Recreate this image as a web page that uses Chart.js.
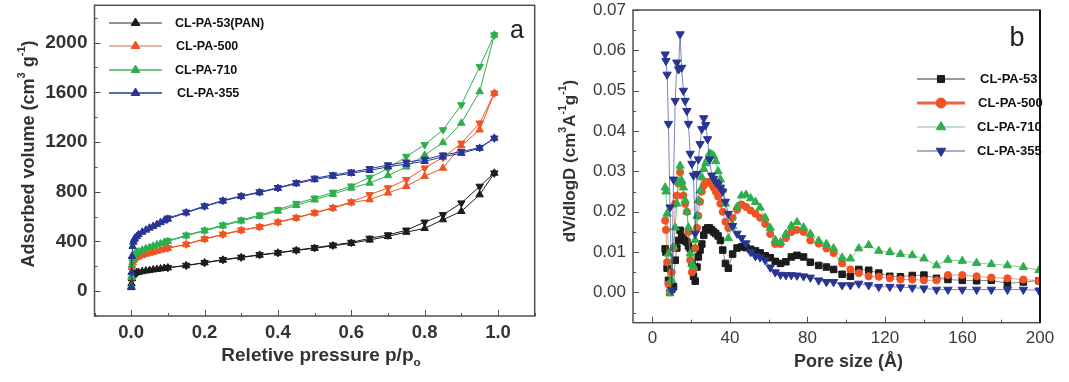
<!DOCTYPE html>
<html>
<head>
<meta charset="utf-8">
<script src="https://cdn.jsdelivr.net/npm/chart.js@4.4.1/dist/chart.umd.min.js"></script>
<style>
  html, body { margin: 0; padding: 0; background: #fff; }
  #wrap { position: relative; width: 1069px; height: 382px; overflow: hidden; }
  #panel_a { position: absolute; left: 0; top: 0; }
  #panel_b { position: absolute; left: 540px; top: 0; }
</style>
</head>
<body>
<div id="wrap">
  <canvas id="panel_a" width="540" height="382"></canvas>
  <canvas id="panel_b" width="529" height="382"></canvas>
</div>
<script>
// ---- panel a : N2 isotherms ----
var samples_a = ['CL-PA-53(PAN)', 'CL-PA-500', 'CL-PA-710', 'CL-PA-355'];
var p_ads = [0.0005, 0.001, 0.002, 0.004, 0.006, 0.008, 0.01, 0.015, 0.02, 0.03, 0.04, 0.05, 0.06, 0.07, 0.08, 0.09, 0.1,
             0.15, 0.2, 0.25, 0.3, 0.35, 0.4, 0.45, 0.5, 0.55, 0.6, 0.65, 0.7, 0.75, 0.8, 0.85, 0.9, 0.95, 0.99];
var p_des = [0.99, 0.95, 0.9, 0.85, 0.8, 0.75, 0.7, 0.65, 0.6, 0.55, 0.5, 0.45, 0.4, 0.35, 0.3, 0.25, 0.2, 0.15, 0.1];

var ads_53  = [30, 60, 100, 125, 135, 140, 145, 150, 152, 158, 163, 167, 172, 176, 180, 184, 188,
               205, 228, 250, 270, 290, 307, 327, 345, 365, 385, 412, 440, 475, 505, 575, 642, 776, 950];
var des_53  = [950, 843, 709, 615, 555, 490, 452, 425, 392, 370, 350, 330, 310, 293, 273, 254, 230, 207, 190];
var ads_500 = [35, 110, 190, 230, 248, 258, 265, 272, 278, 288, 298, 306, 314, 322, 330, 338, 345,
               375, 418, 455, 488, 515, 552, 588, 628, 668, 712, 736, 790, 843, 924, 990, 1170, 1298, 1593];
var des_500 = [1593, 1352, 1190, 1075, 990, 897, 830, 776, 718, 672, 632, 592, 556, 518, 492, 458, 421, 378, 348];
var ads_710 = [40, 120, 210, 260, 280, 292, 300, 310, 318, 330, 342, 352, 362, 372, 382, 392, 400,
               445, 485, 525, 565, 603, 645, 690, 735, 780, 830, 870, 930, 1000, 1095, 1195, 1352, 1606, 2061];
var des_710 = [2061, 1807, 1499, 1298, 1178, 1084, 985, 915, 845, 795, 748, 705, 655, 612, 572, 532, 490, 450, 405];
var ads_355 = [30, 150, 280, 360, 395, 415, 425, 440, 455, 475, 492, 508, 522, 537, 552, 566, 580,
               630, 680, 725, 762, 793, 828, 865, 898, 925, 948, 972, 1000, 1022, 1045, 1080, 1110, 1150, 1231];
var des_355 = [1231, 1155, 1122, 1095, 1060, 1038, 1015, 985, 958, 935, 908, 872, 832, 798, 766, 730, 685, 635, 588];

var x_ticks_a = [0, 0.2, 0.4, 0.6, 0.8, 1.0];
var y_ticks_a = [0, 400, 800, 1200, 1600, 2000];

// ---- panel b : pore size distribution ----
var samples_b = ['CL-PA-53', 'CL-PA-500', 'CL-PA-710', 'CL-PA-355'];
var pore_size = [6.6, 7.0, 7.6, 8.3, 9.1, 10.0, 10.9, 11.8, 12.6, 13.5, 14.3, 15.1, 16.0, 16.9, 17.8, 18.6, 19.5, 20.4,
                 21.2, 22.1, 23.0, 23.7, 24.6, 25.5, 26.5, 27.5, 28.5, 29.5, 30.6, 31.6, 32.7, 33.9, 35.1, 36.3,
                 37.7, 39.2, 41.4, 43.7, 46.0, 48.3, 50.7, 53.2, 55.6, 58.2, 60.8, 63.4, 66.1, 68.9, 71.7, 74.6,
                 78.0, 81.5, 85.8, 89.8, 93.5, 97.9, 102.2, 106.5, 111.6, 116.8, 122.5, 128.0, 134.1, 140.1,
                 146.6, 152.5, 159.9, 167.3, 174.9, 183.2, 191.4, 199.5];
var psd_53  = [0.0108, 0.0100, 0.0060, 0.0030, 0.0000, 0.0008, 0.0014, 0.0080, 0.0110, 0.0129, 0.0154, 0.0137,
               0.0132, 0.0128, 0.0125, 0.0115, 0.0109, 0.0072, 0.0040, 0.0028, 0.0063, 0.0088, 0.0105, 0.0120,
               0.0142, 0.0155, 0.0160, 0.0160, 0.0155, 0.0150, 0.0146, 0.0140, 0.0129, 0.0105, 0.0072, 0.0060,
               0.0095, 0.0110, 0.0113, 0.0111, 0.0107, 0.0103, 0.0098, 0.0091, 0.0086, 0.0077, 0.0072, 0.0076,
               0.0088, 0.0092, 0.0088, 0.0075, 0.0067, 0.0063, 0.0057, 0.0045, 0.0040, 0.0057, 0.0055, 0.0048,
               0.0040, 0.0039, 0.0042, 0.0043, 0.0035, 0.0032, 0.0030, 0.0029, 0.0030, 0.0022, 0.0026, 0.0029];
var psd_500 = [0.0178, 0.0155, 0.0075, 0.0020, 0.0000, 0.0050, 0.0110, 0.0220, 0.0240, 0.0270, 0.0298, 0.0270,
               0.0240, 0.0220, 0.0200, 0.0150, 0.0080, 0.0050, 0.0060, 0.0110, 0.0160, 0.0190, 0.0225, 0.0250,
               0.0265, 0.0272, 0.0274, 0.0273, 0.0268, 0.0260, 0.0250, 0.0238, 0.0220, 0.0200, 0.0175, 0.0160,
               0.0185, 0.0205, 0.0218, 0.0212, 0.0203, 0.0195, 0.0185, 0.0170, 0.0145, 0.0120, 0.0120, 0.0135,
               0.0150, 0.0155, 0.0150, 0.0129, 0.0121, 0.0109, 0.0098, 0.0072, 0.0057, 0.0048, 0.0040, 0.0039,
               0.0035, 0.0032, 0.0032, 0.0030, 0.0030, 0.0043, 0.0043, 0.0040, 0.0037, 0.0035, 0.0032, 0.0029];
var psd_710 = [0.0260, 0.0250, 0.0195, 0.0096, 0.0000, 0.0030, 0.0112, 0.0161, 0.0220, 0.0273, 0.0314, 0.0277,
               0.0260, 0.0228, 0.0200, 0.0161, 0.0096, 0.0070, 0.0063, 0.0130, 0.0190, 0.0228, 0.0252, 0.0285,
               0.0306, 0.0320, 0.0330, 0.0344, 0.0342, 0.0338, 0.0325, 0.0300, 0.0280, 0.0255, 0.0220, 0.0134,
               0.0165, 0.0212, 0.0240, 0.0242, 0.0233, 0.0224, 0.0210, 0.0185, 0.0160, 0.0130, 0.0124, 0.0145,
               0.0165, 0.0174, 0.0161, 0.0145, 0.0128, 0.0120, 0.0109, 0.0086, 0.0084, 0.0109, 0.0117, 0.0103,
               0.0100, 0.0095, 0.0092, 0.0084, 0.0067, 0.0081, 0.0078, 0.0073, 0.0070, 0.0067, 0.0063, 0.0055];
var psd_355 = [0.0590, 0.0574, 0.0540, 0.0418, 0.0211, 0.0006, 0.0280, 0.0475, 0.0570, 0.0553, 0.0640, 0.0557,
               0.0500, 0.0475, 0.0450, 0.0418, 0.0344, 0.0319, 0.0290, 0.0146, 0.0294, 0.0330, 0.0368, 0.0405,
               0.0432, 0.0415, 0.0380, 0.0330, 0.0290, 0.0282, 0.0273, 0.0268, 0.0260, 0.0250, 0.0225, 0.0195,
               0.0165, 0.0146, 0.0135, 0.0122, 0.0100, 0.0090, 0.0087, 0.0080, 0.0062, 0.0050, 0.0044, 0.0043,
               0.0043, 0.0042, 0.0040, 0.0037, 0.0030, 0.0026, 0.0026, 0.0018, 0.0018, 0.0022, 0.0018, 0.0014,
               0.0014, 0.0013, 0.0012, 0.0010, 0.0007, 0.0007, 0.0007, 0.0007, 0.0007, 0.0007, 0.0007, 0.0005];

var x_ticks_b = [0, 40, 80, 120, 160, 200];
var y_ticks_b = [0, 0.01, 0.02, 0.03, 0.04, 0.05, 0.06, 0.07];

var c_black = '#1c1c1c', c_red = '#f05323', c_green = '#2fae4e', c_blue = '#283593';
var FONT = '"Liberation Sans", Arial, sans-serif';
Chart.defaults.font.family = FONT;

function pts(xs, ys) {
  return xs.map(function(x, i) { return {x: x, y: ys[i]}; });
}

function branch(label, xs, ys, color, rot) {
  return {
    label: label, data: pts(xs, ys), showLine: true,
    borderColor: color, borderWidth: 1,
    backgroundColor: color, pointBackgroundColor: color, pointBorderColor: color,
    pointStyle: 'triangle', pointRotation: rot, pointRadius: 4.3, pointBorderWidth: 1
  };
}

function psd(label, ys, color, line, style, r, rot) {
  return {
    label: label, data: pts(pore_size, ys), showLine: true,
    borderColor: line, borderWidth: 1,
    backgroundColor: color, pointBackgroundColor: color, pointBorderColor: color,
    pointStyle: style, pointRotation: rot || 0, pointRadius: r, pointBorderWidth: 1
  };
}

// text with super/subscript parts
function draw_rich(ctx, parts, cx, cy, size, weight, color, rot) {
  ctx.save();
  ctx.translate(cx, cy);
  ctx.rotate(rot || 0);
  ctx.fillStyle = color;
  ctx.textBaseline = 'middle';
  ctx.textAlign = 'left';
  var total = 0;
  parts.forEach(function(p) {
    var s = p.s ? size * 0.62 : size;
    ctx.font = weight + ' ' + s + 'px ' + FONT;
    p.w = ctx.measureText(p.t).width;
    total += p.w;
  });
  var x = -total / 2;
  parts.forEach(function(p) {
    var s = p.s ? size * 0.62 : size;
    ctx.font = weight + ' ' + s + 'px ' + FONT;
    var dy = p.s === 1 ? -size * 0.38 : (p.s === -1 ? size * 0.35 : 0);
    ctx.fillText(p.t, x, dy);
    x += p.w;
  });
  ctx.restore();
}

var decor = {
  id: 'decor',
  afterDatasetsDraw: function(chart, args, opt) {
    var ctx = chart.ctx, a = chart.chartArea;
    var sx = chart.scales.x, sy = chart.scales.y;
    ctx.save();

    // legend
    var lg = opt.legend;
    lg.rows.forEach(function(row) {
      ctx.strokeStyle = row.line;
      ctx.lineWidth = row.lw;
      ctx.beginPath();
      ctx.moveTo(lg.x0, row.y);
      ctx.lineTo(lg.x1, row.y);
      ctx.stroke();
      ctx.fillStyle = row.color;
      ctx.strokeStyle = row.color;
      ctx.lineWidth = 1;
      Chart.helpers.drawPoint(ctx, {pointStyle: row.style, radius: row.r, rotation: row.rot || 0, borderWidth: 1},
        (lg.x0 + lg.x1) / 2, row.y);
      ctx.fillStyle = '#111';
      ctx.font = lg.font;
      ctx.textAlign = 'left';
      ctx.textBaseline = 'middle';
      ctx.fillText(row.text, row.tx, row.y + 0.5);
    });

    // inward ticks
    ctx.strokeStyle = opt.frame;
    ctx.lineWidth = 1;
    ctx.beginPath();
    var k, v, px, len;
    for (k = Math.ceil(sx.min / opt.xMinor - 1e-6); k * opt.xMinor <= sx.max + 1e-9; k++) {
      v = k * opt.xMinor;
      px = Math.round(sx.getPixelForValue(v)) + 0.5;
      len = (k % 2 === 0) ? 6 : 3;
      ctx.moveTo(px, a.bottom);
      ctx.lineTo(px, a.bottom - len);
    }
    for (k = Math.ceil(sy.min / opt.yMinor - 1e-6); k * opt.yMinor <= sy.max + 1e-9; k++) {
      v = k * opt.yMinor;
      px = Math.round(sy.getPixelForValue(v)) + 0.5;
      len = (k % 2 === 0) ? 6 : 3;
      ctx.moveTo(a.left, px);
      ctx.lineTo(a.left + len, px);
    }
    ctx.stroke();

    // frame
    ctx.lineWidth = 1.5;
    ctx.strokeStyle = opt.frame;
    ctx.strokeRect(a.left, a.top, a.right - a.left, a.bottom - a.top);
    if (opt.rightEdge) {
      ctx.lineWidth = 2;
      ctx.strokeStyle = opt.rightEdge;
      ctx.beginPath();
      ctx.moveTo(a.right, a.top);
      ctx.lineTo(a.right, a.bottom);
      ctx.stroke();
    }

    // panel letter
    ctx.fillStyle = '#222';
    ctx.font = opt.letter.size + 'px ' + FONT;
    ctx.textAlign = 'center';
    ctx.textBaseline = 'middle';
    ctx.fillText(opt.letter.text, opt.letter.x, opt.letter.y);

    // axis titles
    var t = opt.xTitle;
    draw_rich(ctx, t.parts, t.x, t.y, t.size, 'bold', '#333', 0);
    t = opt.yTitle;
    draw_rich(ctx, t.parts, t.x, t.y, t.size, 'bold', '#333', -Math.PI / 2);
    ctx.restore();
  }
};

function fixed_scale(size, horizontal) {
  return function(s) {
    if (horizontal) s.height = size; else s.width = size;
    s.paddingTop = 0; s.paddingBottom = 0; s.paddingLeft = 0; s.paddingRight = 0;
  };
}

// ---- chart a ----
new Chart(document.getElementById('panel_a'), {
  type: 'scatter',
  data: {
    datasets: [
      branch(samples_a[3], p_ads, ads_355, c_blue, 0),
      branch(samples_a[3], p_des, des_355, c_blue, 180),
      branch(samples_a[2], p_ads, ads_710, c_green, 0),
      branch(samples_a[2], p_des, des_710, c_green, 180),
      branch(samples_a[1], p_ads, ads_500, c_red, 0),
      branch(samples_a[1], p_des, des_500, c_red, 180),
      branch(samples_a[0], p_ads, ads_53, c_black, 0),
      branch(samples_a[0], p_des, des_53, c_black, 180)
    ]
  },
  options: {
    responsive: false, animation: false, events: [],
    layout: {padding: {left: 0, right: 4, top: 5, bottom: 0}},
    plugins: {
      legend: {display: false}, tooltip: {enabled: false},
      decor: {
        frame: '#505050', xMinor: 0.1, yMinor: 200,
        letter: {text: 'a', x: 517, y: 31, size: 25},
        xTitle: {parts: [{t: 'Reletive pressure p/p'}, {t: 'o', s: -1}], x: 321, y: 356, size: 19},
        yTitle: {parts: [{t: 'Adsorbed volume (cm'}, {t: '3', s: 1}, {t: ' g'}, {t: '-1', s: 1}, {t: ')'}], x: 29, y: 154, size: 18},
        legend: {
          x0: 109, x1: 162, font: 'bold 12.5px ' + FONT,
          rows: [
            {y: 23, tx: 175, text: samples_a[0], line: '#707070', lw: 1.5, color: c_black, style: 'triangle', r: 5},
            {y: 46, tx: 176, text: samples_a[1], line: '#e6b6a6', lw: 2, color: c_red, style: 'triangle', r: 5},
            {y: 70, tx: 175, text: samples_a[2], line: '#43b35c', lw: 1.5, color: c_green, style: 'triangle', r: 5},
            {y: 93, tx: 177, text: samples_a[3], line: '#2c3a8c', lw: 1.5, color: c_blue, style: 'triangle', r: 5}
          ]
        }
      }
    },
    scales: {
      x: {
        type: 'linear', min: -0.1, max: 1.1,
        afterBuildTicks: function(s) { s.ticks = x_ticks_a.map(function(v) { return {value: v}; }); },
        afterFit: fixed_scale(66, true),
        grid: {display: false, drawTicks: false}, border: {display: false},
        ticks: {padding: 6, color: '#333', maxRotation: 0, autoSkip: false,
                font: {size: 18.5, weight: 'bold'}, callback: function(v) { return v.toFixed(1); }}
      },
      y: {
        type: 'linear', min: -200, max: 2300,
        afterBuildTicks: function(s) { s.ticks = y_ticks_a.map(function(v) { return {value: v}; }); },
        afterFit: fixed_scale(94.5, false),
        grid: {display: false, drawTicks: false}, border: {display: false},
        ticks: {padding: 7, color: '#333', font: {size: 19, weight: 'bold'},
                callback: function(v) { return String(v); }}
      }
    }
  },
  plugins: [decor]
});

// ---- chart b ----
new Chart(document.getElementById('panel_b'), {
  type: 'scatter',
  data: {
    datasets: [
      psd(samples_b[3], psd_355, c_blue, 'rgba(40,53,147,0.6)', 'triangle', 4.8, 180),
      psd(samples_b[2], psd_710, c_green, 'rgba(47,174,78,0.6)', 'triangle', 4.8, 0),
      psd(samples_b[1], psd_500, c_red, 'rgba(240,83,35,0.6)', 'circle', 3.6, 0),
      psd(samples_b[0], psd_53, c_black, 'rgba(40,40,40,0.55)', 'rect', 4.6, 0)
    ]
  },
  options: {
    responsive: false, animation: false, events: [],
    layout: {padding: {left: 0, right: 29, top: 10, bottom: 0}},
    plugins: {
      legend: {display: false}, tooltip: {enabled: false},
      decor: {
        frame: '#505050', rightEdge: '#111', xMinor: 20, yMinor: 0.005,
        letter: {text: 'b', x: 477, y: 39, size: 27},
        xTitle: {parts: [{t: 'Pore size (Å)'}], x: 308.5, y: 362, size: 18},
        yTitle: {parts: [{t: 'dV/dlogD (cm'}, {t: '3', s: 1}, {t: 'A'}, {t: '-1', s: 1}, {t: 'g'}, {t: '-1', s: 1}, {t: ')'}],
                 x: 30, y: 161, size: 17},
        legend: {
          x0: 377, x1: 425, font: 'bold 13px ' + FONT,
          rows: [
            {y: 79, tx: 440, text: samples_b[0], line: '#333', lw: 1.2, color: c_black, style: 'rect', r: 5},
            {y: 103, tx: 438, text: samples_b[1], line: '#f0643a', lw: 3, color: c_red, style: 'circle', r: 5},
            {y: 127, tx: 437, text: samples_b[2], line: '#86b896', lw: 1.2, color: c_green, style: 'triangle', r: 5.5},
            {y: 151, tx: 437, text: samples_b[3], line: '#57618f', lw: 1.2, color: c_blue, style: 'triangle', r: 5.5, rot: 180}
          ]
        }
      }
    },
    scales: {
      x: {
        type: 'linear', min: -10, max: 200,
        afterBuildTicks: function(s) { s.ticks = x_ticks_b.map(function(v) { return {value: v}; }); },
        afterFit: fixed_scale(59.3, true),
        grid: {display: false, drawTicks: false}, border: {display: false},
        ticks: {padding: 5, color: '#3a3a3a', maxRotation: 0, autoSkip: false, font: {size: 17}}
      },
      y: {
        type: 'linear', min: -0.0075, max: 0.07,
        afterBuildTicks: function(s) { s.ticks = y_ticks_b.map(function(v) { return {value: v}; }); },
        afterFit: fixed_scale(93, false),
        grid: {display: false, drawTicks: false}, border: {display: false},
        ticks: {padding: 7, color: '#3a3a3a', font: {size: 17},
                callback: function(v) { return v.toFixed(2); }}
      }
    }
  },
  plugins: [decor]
});
</script>
</body>
</html>
